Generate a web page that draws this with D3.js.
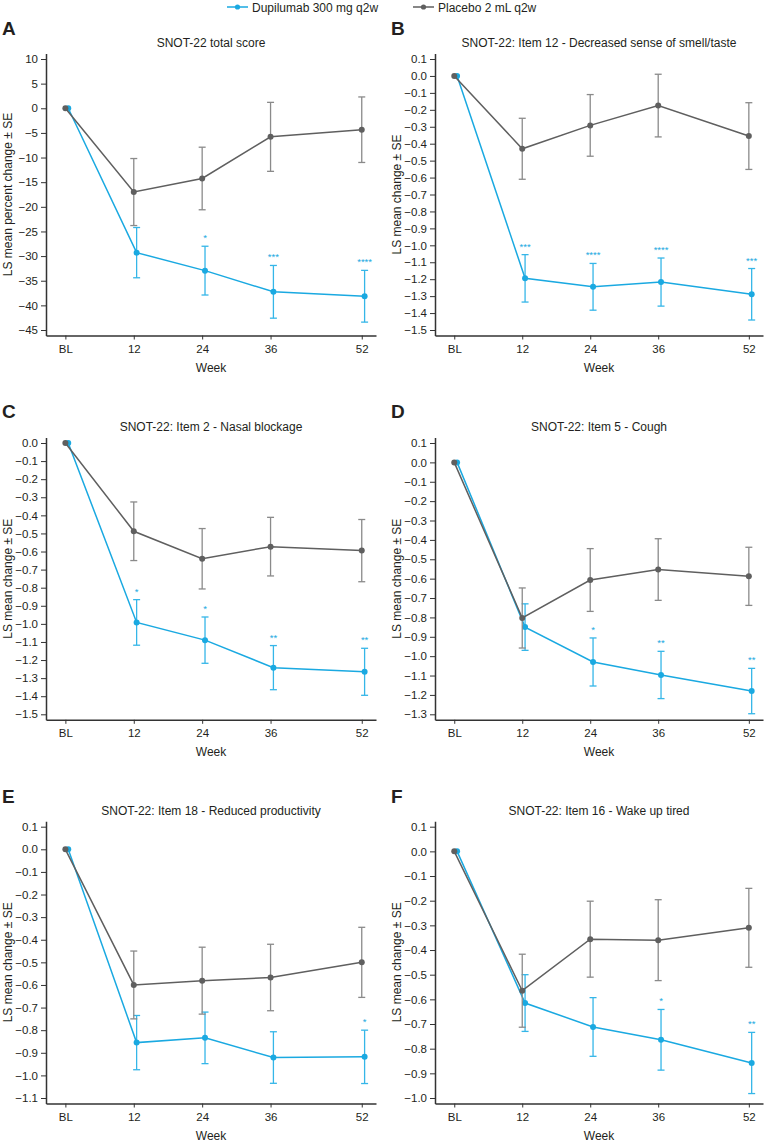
<!DOCTYPE html>
<html><head><meta charset="utf-8">
<script src="https://cdn.jsdelivr.net/npm/d3@7"></script>
<style>
body{margin:0;background:#fff}
svg{display:block}
text{font-family:"Liberation Sans",Arial,sans-serif;fill:#231f20}
</style>
</head><body>
<svg id="c" width="765" height="1144"></svg>
<script>
// ---- data ----
const weeks = [0, 12, 24, 36, 52];
const weekLabels = ["BL", "12", "24", "36", "52"];
const seriesNames = ["Dupilumab 300 mg q2w", "Placebo 2 mL q2w"];
const panelLetters = ["A", "B", "C", "D", "E", "F"];
const panelTitles = [
  "SNOT-22 total score",
  "SNOT-22: Item 12 - Decreased sense of smell/taste",
  "SNOT-22: Item 2 - Nasal blockage",
  "SNOT-22: Item 5 - Cough",
  "SNOT-22: Item 18 - Reduced productivity",
  "SNOT-22: Item 16 - Wake up tired"
];
const yTitles = [
  "LS mean percent change \u00b1 SE",
  "LS mean change \u00b1 SE",
  "LS mean change \u00b1 SE",
  "LS mean change \u00b1 SE",
  "LS mean change \u00b1 SE",
  "LS mean change \u00b1 SE"
];
// y tick values
const ticksA = [10, 5, 0, -5, -10, -15, -20, -25, -30, -35, -40, -45];
const ticksB = [0.1, 0.0, -0.1, -0.2, -0.3, -0.4, -0.5, -0.6, -0.7, -0.8, -0.9, -1.0, -1.1, -1.2, -1.3, -1.4, -1.5];
const ticksC = [0.0, -0.1, -0.2, -0.3, -0.4, -0.5, -0.6, -0.7, -0.8, -0.9, -1.0, -1.1, -1.2, -1.3, -1.4, -1.5];
const ticksD = [0.1, 0.0, -0.1, -0.2, -0.3, -0.4, -0.5, -0.6, -0.7, -0.8, -0.9, -1.0, -1.1, -1.2, -1.3];
const ticksE = [0.1, 0.0, -0.1, -0.2, -0.3, -0.4, -0.5, -0.6, -0.7, -0.8, -0.9, -1.0, -1.1];
const ticksF = [0.1, 0.0, -0.1, -0.2, -0.3, -0.4, -0.5, -0.6, -0.7, -0.8, -0.9, -1.0];

// panel A
const placeboA = [0, -17.0, -14.25, -5.8, -4.35];
const placeboSeA = [0, 6.8, 6.35, 7.0, 6.65];
const dupiA = [0, -29.3, -32.95, -37.25, -38.15];
const dupiSeA = [0, 5.1, 4.95, 5.35, 5.25];
const sigA = ["", "", "*", "***", "****"];
// panel B
const placeboB = [0, -0.43, -0.292, -0.175, -0.355];
const placeboSeB = [0, 0.18, 0.182, 0.185, 0.197];
const dupiB = [0, -1.195, -1.245, -1.217, -1.289];
const dupiSeB = [0, 0.14, 0.138, 0.142, 0.152];
const sigB = ["", "***", "****", "****", "***"];
// panel C
const placeboC = [0, -0.488, -0.64, -0.573, -0.595];
const placeboSeC = [0, 0.162, 0.167, 0.162, 0.172];
const dupiC = [0, -0.992, -1.09, -1.242, -1.265];
const dupiSeC = [0, 0.126, 0.128, 0.122, 0.13];
const sigC = ["", "*", "*", "**", "**"];
// panel D
const placeboD = [0, -0.803, -0.607, -0.553, -0.588];
const placeboSeD = [0, 0.155, 0.162, 0.159, 0.15];
const dupiD = [0, -0.85, -1.03, -1.097, -1.18];
const dupiSeD = [0, 0.12, 0.124, 0.122, 0.117];
const sigD = ["", "", "*", "**", "**"];
// panel E
const placeboE = [0, -0.6, -0.581, -0.567, -0.5];
const placeboSeE = [0, 0.15, 0.148, 0.147, 0.155];
const dupiE = [0, -0.855, -0.834, -0.921, -0.918];
const dupiSeE = [0, 0.12, 0.114, 0.114, 0.118];
const sigE = ["", "", "", "", "*"];
// panel F
const placeboF = [0, -0.565, -0.356, -0.36, -0.31];
const placeboSeF = [0, 0.148, 0.154, 0.164, 0.16];
const dupiF = [0, -0.615, -0.712, -0.764, -0.858];
const dupiSeF = [0, 0.115, 0.119, 0.123, 0.124];
const sigF = ["", "", "", "*", "**"];

const panels = [
  {ticks: ticksA, pl: placeboA, plSe: placeboSeA, du: dupiA, duSe: dupiSeA, sig: sigA, fmt: d3.format("d")},
  {ticks: ticksB, pl: placeboB, plSe: placeboSeB, du: dupiB, duSe: dupiSeB, sig: sigB, fmt: d3.format(".1f")},
  {ticks: ticksC, pl: placeboC, plSe: placeboSeC, du: dupiC, duSe: dupiSeC, sig: sigC, fmt: d3.format(".1f")},
  {ticks: ticksD, pl: placeboD, plSe: placeboSeD, du: dupiD, duSe: dupiSeD, sig: sigD, fmt: d3.format(".1f")},
  {ticks: ticksE, pl: placeboE, plSe: placeboSeE, du: dupiE, duSe: dupiSeE, sig: sigE, fmt: d3.format(".1f")},
  {ticks: ticksF, pl: placeboF, plSe: placeboSeF, du: dupiF, duSe: dupiSeF, sig: sigF, fmt: d3.format(".1f")}
];

// ---- style / layout ----
const BLUE = "#1aa9e1", BLUE_EB = "#35b6e8";
const GREY = "#5f5f5f", GREY_EB = "#8a8a8a";
const AXIS = "#333";
const cols = [{x0: 46, x1: 376}, {x0: 435, x1: 763}];
const rows = [{top: 59, bot: 330, title: 47, letter: 35},
              {top: 443, bot: 714.3, title: 431, letter: 418},
              {top: 826.7, bot: 1098, title: 815, letter: 803}];
const PAD = 5.5;
const DODGE = 0.5;

const svg = d3.select("#c");

// legend
const leg = svg.append("g");
[[227, BLUE, seriesNames[0]], [413, GREY, seriesNames[1]]].forEach(([lx, c, t]) => {
  leg.append("line").attr("x1", lx).attr("x2", lx + 21).attr("y1", 7).attr("y2", 7)
    .attr("stroke", c).attr("stroke-width", 1.5);
  leg.append("circle").attr("cx", lx + 10.5).attr("cy", 7).attr("r", 2.6).attr("fill", c);
  leg.append("text").attr("x", lx + 25).attr("y", 11.5).attr("font-size", 12).text(t);
});

panels.forEach((p, k) => {
  const col = cols[k % 2], row = rows[Math.floor(k / 2)];
  const g = svg.append("g");
  const hi = d3.max(p.ticks), lo = d3.min(p.ticks);
  const ppu = (row.bot - row.top) / (hi - lo);
  const y = d3.scaleLinear().domain([lo - PAD / ppu, hi + PAD / ppu]).range([row.bot + PAD, row.top - PAD]);
  const x = d3.scaleLinear().domain([-3.4, 54.5]).range([col.x0, col.x1]);
  const axisY = row.bot + PAD;

  // axes
  const ya = g.append("g").attr("transform", `translate(${col.x0},0)`)
    .call(d3.axisLeft(y).tickValues(p.ticks).tickFormat(p.fmt).tickSize(5).tickPadding(3).tickSizeOuter(0));
  const xa = g.append("g").attr("transform", `translate(0,${axisY})`)
    .call(d3.axisBottom(x).tickValues(weeks).tickFormat((d, i) => weekLabels[i]).tickSize(4).tickPadding(5).tickSizeOuter(0));
  [ya, xa].forEach(a => {
    a.select(".domain").attr("stroke", AXIS).attr("stroke-width", 1.5);
    a.selectAll(".tick line").attr("stroke", AXIS).attr("stroke-width", 1);
    a.selectAll(".tick text").attr("font-size", 11.5).attr("fill", "#231f20")
      .style("font-family", '"Liberation Sans",Arial,sans-serif');
  });

  // titles
  g.append("text").attr("x", (col.x0 + col.x1) / 2).attr("y", row.title)
    .attr("text-anchor", "middle").attr("font-size", 12).text(panelTitles[k]);
  g.append("text").attr("x", col.x0 - 44).attr("y", row.letter)
    .attr("font-size", 19).attr("font-weight", "bold").attr("fill", "#111").text(panelLetters[k]);
  g.append("text").attr("x", (col.x0 + col.x1) / 2).attr("y", axisY + 36)
    .attr("text-anchor", "middle").attr("font-size", 12).text("Week");
  const ymid = (row.top - PAD + axisY) / 2;
  g.append("text").attr("transform", `translate(${col.x0 - 34},${ymid}) rotate(-90)`)
    .attr("text-anchor", "middle").attr("font-size", 12).text(yTitles[k]);

  // series
  const drawSeries = (vals, ses, off, lineC, ebC) => {
    const sg = g.append("g");
    vals.forEach((m, i) => {
      if (!ses[i]) return;
      const cx = x(weeks[i] + off);
      const eg = sg.append("g").attr("stroke", ebC).attr("stroke-width", 1.3);
      eg.append("line").attr("x1", cx).attr("x2", cx).attr("y1", y(m - ses[i])).attr("y2", y(m + ses[i]));
      eg.append("line").attr("x1", cx - 3.5).attr("x2", cx + 3.5).attr("y1", y(m - ses[i])).attr("y2", y(m - ses[i]));
      eg.append("line").attr("x1", cx - 3.5).attr("x2", cx + 3.5).attr("y1", y(m + ses[i])).attr("y2", y(m + ses[i]));
    });
    sg.append("path").datum(vals)
      .attr("d", d3.line().x((d, i) => x(weeks[i] + off)).y(d => y(d)))
      .attr("fill", "none").attr("stroke", lineC).attr("stroke-width", 1.5);
    sg.selectAll("circle").data(vals).join("circle")
      .attr("cx", (d, i) => x(weeks[i] + off)).attr("cy", d => y(d)).attr("r", 3).attr("fill", lineC);
  };
  drawSeries(p.du, p.duSe, DODGE, BLUE, BLUE_EB);
  drawSeries(p.pl, p.plSe, 0, GREY, GREY_EB);

  // significance
  p.sig.forEach((s, i) => {
    if (!s) return;
    g.append("text").attr("x", x(weeks[i] + DODGE)).attr("y", y(p.du[i] + p.duSe[i]) - 5)
      .attr("text-anchor", "middle").attr("font-size", 9.5).attr("fill", BLUE).style("fill", BLUE).text(s);
  });
});
</script>
</body></html>
